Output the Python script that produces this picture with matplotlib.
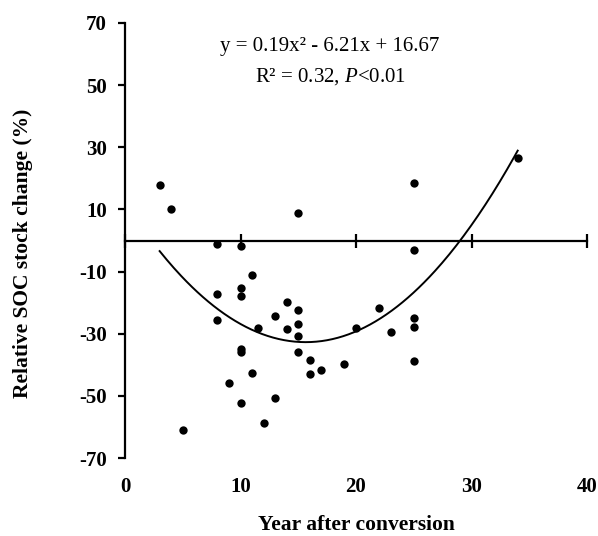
import matplotlib
matplotlib.use("Agg")
import matplotlib.pyplot as plt
import numpy as np

plt.rcParams['font.family'] = ['Liberation Serif', 'DejaVu Serif']
plt.rcParams['axes.unicode_minus'] = False
plt.rcParams['mathtext.fontset'] = 'custom'
plt.rcParams['mathtext.rm'] = 'Liberation Serif'
plt.rcParams['mathtext.it'] = 'Liberation Serif:italic'

years = [3, 4, 15, 25, 8, 10, 25, 11, 10, 8, 10, 14, 15, 22, 8, 13, 25, 15, 25,
         11.5, 14, 20, 23, 15, 10, 10, 15, 16, 19, 25, 17, 16, 11, 9, 13, 10, 12, 5, 34]
soc_change = [18, 10, 9, 18.5, -1, -1.7, -3.1, -11, -15.2, -17.1, -17.9, -19.8, -22.5,
              -21.8, -25.5, -24.3, -25.0, -27.0, -27.7, -28.3, -28.5, -28.2, -29.4,
              -30.7, -35.0, -35.8, -36.0, -38.4, -39.7, -38.8, -41.6, -43.1, -42.5,
              -45.9, -50.8, -52.2, -58.8, -61, 26.5]
xticks = [0, 10, 20, 30, 40]
yticks = [-70, -50, -30, -10, 10, 30, 50, 70]

fig = plt.figure(figsize=(5.98, 5.36), dpi=100)
ax = fig.add_axes([125/598, 1-458/536, (587-125)/598, (458-23)/536])

ax.scatter(years, soc_change, s=36, color='black', zorder=3, linewidths=0)

coef = np.polyfit(years, soc_change, 2)
xs = np.linspace(min(years), max(years), 200)
ax.plot(xs, np.polyval(coef, xs), color='black', lw=1.4, zorder=2)

ax.set_xlim(0, 40)
ax.set_ylim(-70, 70)
ax.set_xticks(xticks)
ax.set_yticks(yticks)
ax.spines['top'].set_visible(False)
ax.spines['right'].set_visible(False)
ax.spines['bottom'].set_position(('data', 0))
ax.spines['bottom'].set_linewidth(1.6)
ax.spines['left'].set_linewidth(1.6)
ax.tick_params(axis='x', direction='inout', length=10, width=1.6, labelbottom=False)
ax.tick_params(axis='y', direction='out', length=5, width=1.6, pad=8, labelsize=15)
for lab in ax.get_yticklabels():
    lab.set_fontweight('bold')

sec = ax.secondary_xaxis('bottom')
sec.set_xticks(xticks)
sec.spines['bottom'].set_visible(False)
sec.tick_params(axis='x', length=0, pad=14, labelsize=15)
for lab in sec.get_xticklabels():
    lab.set_fontweight('bold')
sec.set_xlabel('Year after conversion', fontsize=15.5, fontweight='bold', labelpad=13)

ax.set_ylabel('Relative SOC stock change (%)', fontsize=15.5, fontweight='bold')
ax.yaxis.set_label_coords(-0.199, 0.47)

ax.text(0.444, 0.947, 'y = 0.19x² - 6.21x + 16.67', transform=ax.transAxes,
        ha='center', va='center', fontsize=15)
ax.text(0.444, 0.876, r'R² = 0.32, $\mathit{P}$<0.01', transform=ax.transAxes,
        ha='center', va='center', fontsize=15)

fig.savefig('out.png', dpi=100)
